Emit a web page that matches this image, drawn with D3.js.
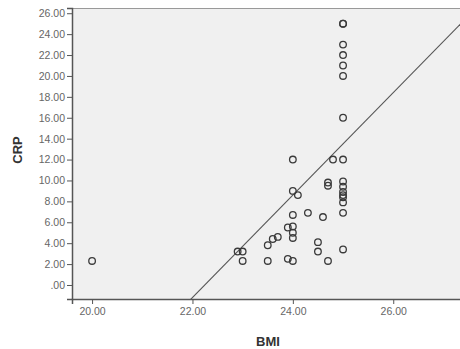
<!DOCTYPE html>
<html><head><meta charset="utf-8">
<script src="https://cdn.jsdelivr.net/npm/d3@7"></script>
<style>body{margin:0;background:#fff}svg{display:block}</style>
</head><body><svg id="c" width="460" height="349"></svg>
<script>
const bmi = [20.0, 22.9, 23.0, 23.0, 23.5, 23.5, 23.6, 23.7, 23.9, 23.9, 24.0, 24.0, 24.0, 24.0, 24.0, 24.0, 24.1, 24.0, 24.3, 24.5, 24.5, 24.6, 24.7, 24.7, 24.7, 24.8,
  25.0, 25.0, 25.0, 25.0, 25.0, 25.0, 25.0, 25.0, 25.0, 25.0, 25.0, 25.0, 25.0, 25.0, 25.0, 25.0];
const crp = [2.3, 3.2, 3.2, 2.3, 2.3, 3.8, 4.4, 4.6, 2.5, 5.5, 2.3, 4.5, 5.0, 5.6, 6.7, 9.0, 8.6, 12.0, 6.9, 4.1, 3.2, 6.5, 9.5, 9.8, 2.3, 12.0,
  25.0, 25.0, 23.0, 22.0, 21.0, 20.0, 16.0, 12.0, 9.9, 9.4, 8.9, 8.6, 8.4, 7.9, 6.9, 3.4];
const xTicks = [20, 22, 24, 26];
const yTicks = [0, 2, 4, 6, 8, 10, 12, 14, 16, 18, 20, 22, 24, 26];
const fitIntercept = -109.0;
const fitSlope = 4.9;
const xTitle = "BMI", yTitle = "CRP";

const svg = d3.select("#c");
const L = 72, R = 462, T = 8, B = 299;
const x = d3.scaleLinear().domain([19.6, 27.37]).range([L, R]);
const y = d3.scaleLinear().domain([-1.34, 26.5]).range([B, T]);

svg.append("rect").attr("x", L).attr("y", T).attr("width", R - L).attr("height", B - T).attr("fill", "#f0f0f0");
svg.append("line").attr("x1", L).attr("x2", R).attr("y1", T + 0.5).attr("y2", T + 0.5).attr("stroke", "#999");

const clip = svg.append("clipPath").attr("id", "pc");
clip.append("rect").attr("x", L).attr("y", T).attr("width", R - L).attr("height", B - T);

const fmt = d => d === 0 ? ".00" : d3.format(".2f")(d);
const ya = svg.append("g").attr("transform", `translate(${L},0)`)
  .call(d3.axisLeft(y).tickValues(yTicks).tickFormat(fmt).tickSize(5).tickPadding(2));
const xa = svg.append("g").attr("transform", `translate(0,${B})`)
  .call(d3.axisBottom(x).tickValues(xTicks).tickFormat(fmt).tickSize(5).tickPadding(4));
[ya, xa].forEach(g => {
  g.select(".domain").attr("stroke", "#555").attr("stroke-width", 1.5);
  g.selectAll(".tick line").attr("stroke", "#555");
  g.selectAll(".tick text").attr("fill", "#666").style("font-family", "Arial, 'Liberation Sans', sans-serif").style("font-size", "10.5px");
});

// regression line
const xd = x.domain();
svg.append("line").attr("clip-path", "url(#pc)")
  .attr("x1", x(xd[0])).attr("y1", y(fitIntercept + fitSlope * xd[0]))
  .attr("x2", x(xd[1])).attr("y2", y(fitIntercept + fitSlope * xd[1]))
  .attr("stroke", "#555").attr("stroke-width", 1.1);

svg.append("g").selectAll("circle").data(bmi.map((b, i) => [b, crp[i]])).join("circle")
  .attr("cx", d => x(d[0])).attr("cy", d => y(d[1])).attr("r", 3.3)
  .attr("fill", "none").attr("stroke", "#3a3a3a").attr("stroke-width", 1.3);

svg.append("text").attr("x", 268).attr("y", 346).attr("text-anchor", "middle")
  .style("font-family", "Arial, 'Liberation Sans', sans-serif").style("font-size", "13px").style("font-weight", "bold").attr("fill", "#333").text(xTitle);
svg.append("text").attr("transform", "translate(22,150) rotate(-90)").attr("text-anchor", "middle")
  .style("font-family", "Arial, 'Liberation Sans', sans-serif").style("font-size", "13px").style("font-weight", "bold").attr("fill", "#333").text(yTitle);
</script></body></html>
